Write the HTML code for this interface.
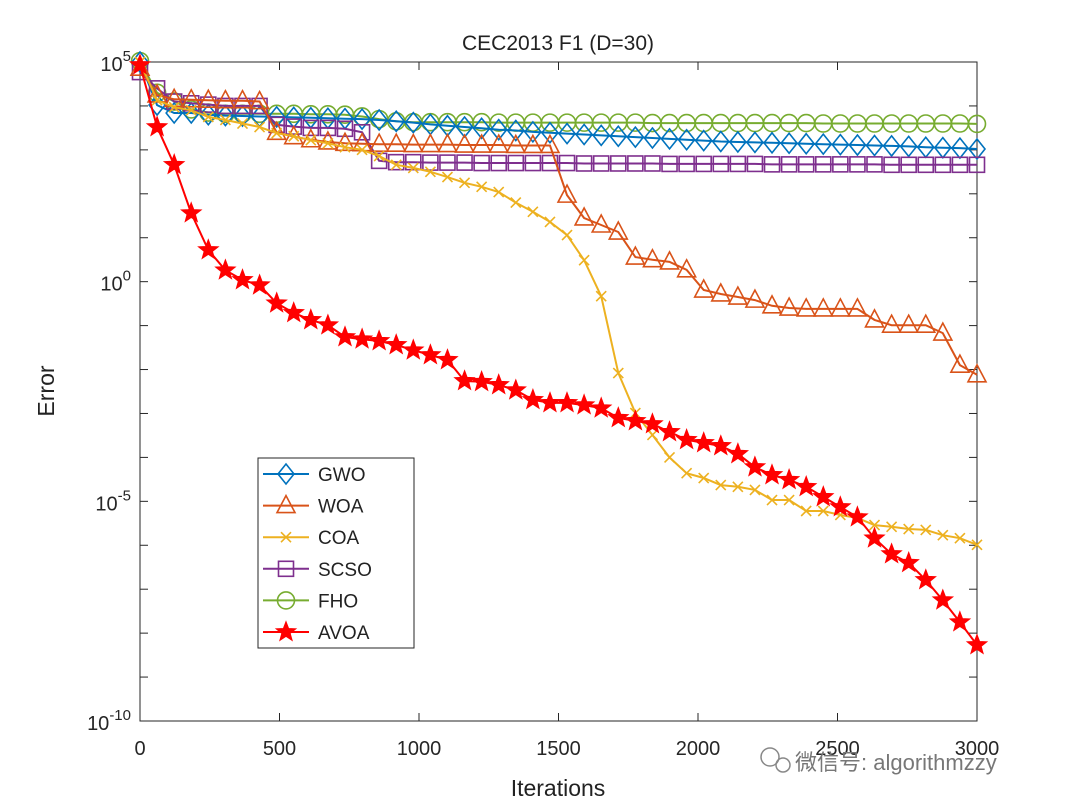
<!DOCTYPE html>
<html><head><meta charset="utf-8"><style>
html,body{margin:0;padding:0;background:#fff;}
svg{display:block;font-family:"Liberation Sans","Noto Sans CJK SC",sans-serif;}
</style></head><body>
<svg id="chart" width="1080" height="810" viewBox="0 0 1080 810" xmlns="http://www.w3.org/2000/svg">
<rect x="0" y="0" width="1080" height="810" fill="#fff"/>
<text x="558" y="50" font-size="21" text-anchor="middle" fill="#222">CEC2013 F1 (D=30)</text>
<text x="558" y="796" font-size="23" text-anchor="middle" fill="#222">Iterations</text>
<text x="0" y="0" font-size="23" text-anchor="middle" fill="#222" transform="translate(54,391) rotate(-90)">Error</text>
<g id="grid"></g>
<g id="series"></g>
<g id="legend"></g>
<g>
<circle cx="770" cy="757" r="9" fill="none" stroke="#888" stroke-width="1.5"/>
<circle cx="783" cy="765" r="7" fill="none" stroke="#888" stroke-width="1.5"/>
<text x="795" y="770" font-size="22" fill="#777">微信号: algorithmzzy</text>
</g>
</svg>
<script>
const iterations = [];
for (let i = 0; i < 50; i++) iterations.push(i * 3000 / 49);
const xTicks = [0, 500, 1000, 1500, 2000, 2500, 3000];
const yTickExps = [5, 0, -5, -10];
const seriesNames = ["GWO", "WOA", "COA", "SCSO", "FHO", "AVOA"];
const gwoLog10Error = [5,4.02,3.84,3.84,3.8,3.78,3.77,3.76,3.75,3.74,3.73,3.72,3.71,3.7,3.68,3.65,3.62,3.58,3.55,3.52,3.49,3.46,3.44,3.41,3.39,3.37,3.35,3.33,3.31,3.29,3.27,3.25,3.23,3.21,3.19,3.18,3.17,3.16,3.15,3.14,3.13,3.12,3.11,3.1,3.09,3.08,3.06,3.05,3.04,3.02];
const woaLog10Error = [4.86,4.25,4.15,4.14,4.13,4.12,4.12,4.1,3.4,3.3,3.23,3.18,3.15,3.14,3.13,3.13,3.12,3.12,3.12,3.11,3.11,3.11,3.1,3.1,3.1,1.97,1.45,1.29,1.13,0.56,0.5,0.45,0.27,-0.19,-0.28,-0.35,-0.42,-0.55,-0.6,-0.62,-0.62,-0.62,-0.62,-0.87,-0.99,-0.99,-0.99,-1.17,-1.9,-2.12];
const coaLog10Error = [5,4.13,3.97,3.9,3.75,3.68,3.6,3.52,3.38,3.31,3.22,3.15,3.06,3.0,2.86,2.66,2.59,2.5,2.38,2.25,2.16,2.04,1.8,1.59,1.36,1.06,0.49,-0.33,-2.08,-2.99,-3.49,-4.0,-4.36,-4.47,-4.63,-4.67,-4.74,-4.97,-4.97,-5.22,-5.22,-5.31,-5.38,-5.54,-5.58,-5.63,-5.65,-5.77,-5.84,-5.99];
const scsoLog10Error = [4.77,4.4,4.1,4.06,4.03,4.0,4.0,4.0,3.57,3.53,3.5,3.5,3.48,3.4,2.75,2.72,2.72,2.71,2.71,2.71,2.7,2.7,2.7,2.7,2.7,2.7,2.69,2.69,2.69,2.69,2.69,2.68,2.68,2.68,2.68,2.68,2.68,2.67,2.67,2.67,2.67,2.67,2.67,2.67,2.66,2.66,2.66,2.66,2.66,2.66];
const fhoLog10Error = [5.02,4.3,4.1,3.92,3.85,3.82,3.82,3.82,3.82,3.82,3.81,3.81,3.8,3.76,3.7,3.65,3.63,3.63,3.63,3.63,3.63,3.62,3.62,3.62,3.62,3.62,3.62,3.62,3.62,3.62,3.61,3.61,3.61,3.61,3.61,3.61,3.61,3.61,3.61,3.61,3.6,3.6,3.6,3.6,3.6,3.6,3.6,3.6,3.6,3.59];
const avoaLog10Error = [4.93,3.52,2.66,1.56,0.72,0.26,0.04,-0.08,-0.49,-0.71,-0.87,-0.99,-1.26,-1.31,-1.35,-1.44,-1.56,-1.67,-1.78,-2.26,-2.28,-2.35,-2.47,-2.69,-2.76,-2.76,-2.81,-2.88,-3.1,-3.17,-3.24,-3.42,-3.6,-3.67,-3.74,-3.92,-4.22,-4.4,-4.51,-4.67,-4.9,-5.13,-5.36,-5.84,-6.2,-6.4,-6.79,-7.25,-7.75,-8.27];

const L = 140, R = 977, T = 62, B = 721;
const xScale = v => L + (v / 3000) * (R - L);
const yScale = e => T + (5 - e) / 15 * (B - T);
const NS = "http://www.w3.org/2000/svg";
function mk(tag, attrs, parent) {
  const el = document.createElementNS(NS, tag);
  for (const k in attrs) el.setAttribute(k, attrs[k]);
  parent.appendChild(el);
  return el;
}
const grid = document.getElementById('grid');
const box = mk('rect', {x: L, y: T, width: R - L, height: B - T, fill: 'none', stroke: '#262626', 'stroke-width': 1}, grid);


xTicks.forEach(t => {
  const x = xScale(t);
  mk('line', {x1: x, y1: B, x2: x, y2: B - 8, stroke: '#262626'}, grid);
  mk('line', {x1: x, y1: T, x2: x, y2: T + 8, stroke: '#262626'}, grid);
  const tx = mk('text', {x: x, y: 755, 'font-size': 20, 'text-anchor': 'middle', fill: '#262626'}, grid);
  tx.textContent = t;
  
  
});
for (let e = 5; e >= -10; e--) {
  const y = yScale(e);
  mk('line', {x1: L, y1: y, x2: L + 8, y2: y, stroke: '#262626'}, grid);
  mk('line', {x1: R, y1: y, x2: R - 8, y2: y, stroke: '#262626'}, grid);
}
yTickExps.forEach(e => {
  const y = yScale(e);
  const tx = mk('text', {x: 131, y: y + 9, 'font-size': 20, 'text-anchor': 'end', fill: '#262626'}, grid);
  
  
  tx.textContent = '10';
  const sp = mk('tspan', {dy: -10, 'font-size': 15}, tx);
  sp.textContent = e;
});

function marker(type, cx, cy, color, parent) {
  const common = {fill: 'none', stroke: color, 'stroke-width': 1.6};
  let el;
  if (type === 'diamond') el = mk('polygon', Object.assign({points: `${cx},${cy-10} ${cx+8},${cy} ${cx},${cy+10} ${cx-8},${cy}`}, common), parent);
  else if (type === 'triangle') el = mk('polygon', Object.assign({points: `${cx},${cy-10} ${cx+9},${cy+7} ${cx-9},${cy+7}`}, common), parent);
  else if (type === 'square') el = mk('rect', Object.assign({x: cx-7.5, y: cy-7.5, width: 15, height: 15}, common), parent);
  else if (type === 'circle') el = mk('circle', Object.assign({cx: cx, cy: cy, r: 8.5}, common), parent);
  else if (type === 'x') el = mk('path', Object.assign({d: `M${cx-5},${cy-5}L${cx+5},${cy+5}M${cx-5},${cy+5}L${cx+5},${cy-5}`}, common), parent);
  else {
    let pts = [];
    for (let k = 0; k < 10; k++) {
      const r = k % 2 ? 4 : 9.5, a = -Math.PI / 2 + k * Math.PI / 5;
      pts.push((cx + r * Math.cos(a)).toFixed(1) + ',' + (cy + r * Math.sin(a)).toFixed(1));
    }
    el = mk('polygon', Object.assign({points: pts.join(' ')}, common), parent);
  }
  return el;
}
const seriesData = [gwoLog10Error, woaLog10Error, coaLog10Error, scsoLog10Error, fhoLog10Error, avoaLog10Error];
const colors = ['#0072BD', '#D95319', '#EDB120', '#7E2F8E', '#77AC30', '#FF0000'];
const markers = ['diamond', 'triangle', 'x', 'square', 'circle', 'star'];
const sg = document.getElementById('series');
const drawOrder = [4, 0, 3, 1, 2, 5];
drawOrder.forEach(s => {
  const g = mk('g', {}, sg);
  
  
  const d = seriesData[s].map((v, i) => (i ? 'L' : 'M') + xScale(iterations[i]).toFixed(1) + ',' + yScale(v).toFixed(1)).join('');
  const line = mk('path', {d: d, fill: 'none', stroke: colors[s], 'stroke-width': 2}, g);
  
  
  seriesData[s].forEach((v, i) => {
    const m = marker(markers[s], xScale(iterations[i]), yScale(v), colors[s], g);
    if (markers[s] === 'star') m.setAttribute('fill', colors[s]);
    
    
  });
});
const lg = document.getElementById('legend');


mk('rect', {x: 258, y: 458, width: 156, height: 190, fill: '#fff', stroke: '#262626', 'stroke-width': 1}, lg);
seriesNames.forEach((n, s) => {
  const y = 474 + s * 31.6;
  const g = mk('g', {}, lg);
  
  
  mk('line', {x1: 263, y1: y, x2: 309, y2: y, stroke: colors[s], 'stroke-width': 2}, g);
  const m = marker(markers[s], 286, y, colors[s], g);
  if (markers[s] === 'star') m.setAttribute('fill', colors[s]);
  const t = mk('text', {x: 318, y: y + 7, 'font-size': 19, fill: '#222'}, g);
  t.textContent = n;
});
</script>
</body></html>
